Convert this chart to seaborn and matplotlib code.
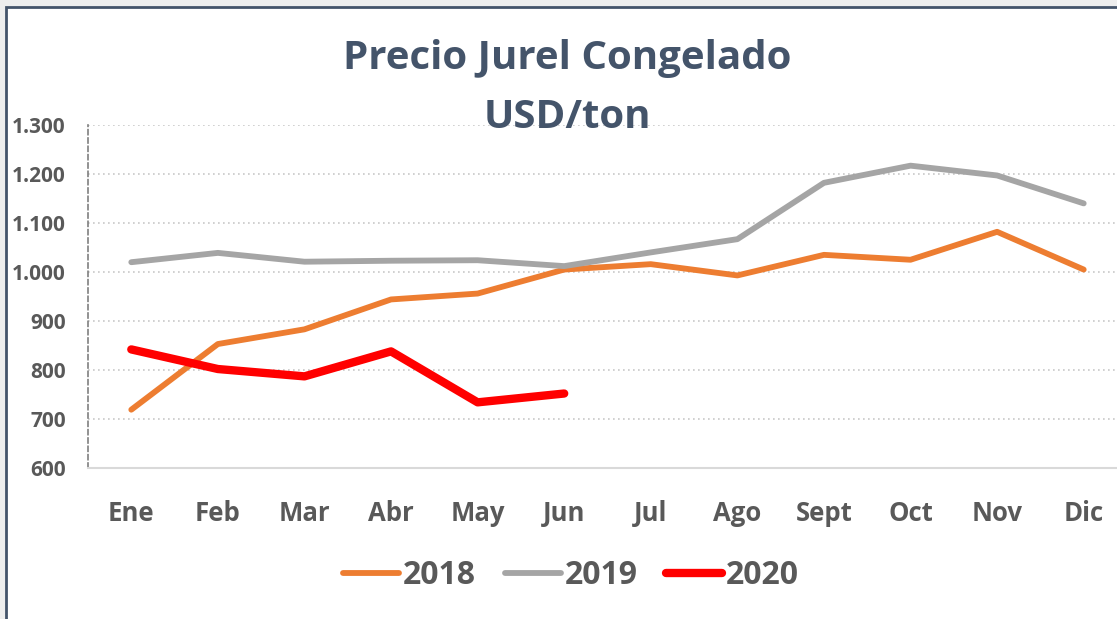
import pandas as pd
import matplotlib.pyplot as plt
import seaborn as sns
from matplotlib.patches import Rectangle
from matplotlib.ticker import FuncFormatter

meses = ["Ene", "Feb", "Mar", "Abr", "May", "Jun",
         "Jul", "Ago", "Sept", "Oct", "Nov", "Dic"]
precio_2018 = [719, 853, 883, 944, 956, 1005, 1016, 993, 1035, 1025, 1082, 1005]
precio_2019 = [1020, 1039, 1021, 1023, 1024, 1012, 1040, 1067, 1182, 1217, 1197, 1140]
precio_2020 = [842, 802, 787, 838, 734, 752]

series = [("2018", precio_2018, "#ED7D31", 4.2),
          ("2019", precio_2019, "#A5A5A5", 4.2),
          ("2020", precio_2020, "#FF0000", 6.0)]

sns.set_theme(style="white")
plt.rcParams["font.family"] = ["Open Sans", "DejaVu Sans"]

fig = plt.figure(figsize=(11.17, 6.19), dpi=100)
fig.patch.set_facecolor("#EEEEEE")

# chart frame (white area with slate border, cut off on the right/bottom)
W, H = 1117, 619
frame = Rectangle((6 / W, -0.05), 1.1, 1 - 7 / H + 0.05, transform=fig.transFigure,
                  facecolor="white", edgecolor="#44546A", linewidth=2, zorder=-10)
fig.patches.append(frame)

ax = fig.add_axes([88 / W, (H - 468) / H, (1127 - 88) / W, (468 - 125) / H])
ax.set_facecolor("none")

for year, vals, color, lw in series:
    df = pd.DataFrame({"Mes": list(range(len(vals))), "Precio": vals})
    sns.lineplot(data=df, x="Mes", y="Precio", ax=ax, color=color,
                 linewidth=lw, label=year, solid_capstyle="round")

ax.set_xlim(-0.5, len(meses) - 0.5)
ax.set_ylim(600, 1300)
ax.set_yticks(range(600, 1301, 100))
ax.yaxis.set_major_formatter(FuncFormatter(lambda v, p: f"{int(v):,}".replace(",", ".")))
ax.set_xticks(range(len(meses)))
ax.set_xticklabels(meses)
ax.set_xlabel("")
ax.set_ylabel("")

ax.grid(axis="y", color="#C8C8C8", linestyle=(0, (1, 2)), linewidth=1.2)
ax.grid(axis="x", visible=False)
for s in ["top", "right"]:
    ax.spines[s].set_visible(False)
ax.spines["left"].set_color("#7F7F7F")
ax.spines["left"].set_linestyle((0, (3, 2)))
ax.spines["left"].set_linewidth(1.2)
ax.spines["bottom"].set_color("#D9D9D9")
ax.spines["bottom"].set_linewidth(1.5)
ax.tick_params(axis="both", length=0, colors="#595959")
ax.tick_params(axis="y", labelsize=15, pad=16)
ax.tick_params(axis="x", labelsize=18.5, pad=23)
for lab in ax.get_xticklabels() + ax.get_yticklabels():
    lab.set_fontweight("bold")

fig.text(567 / W, 1 - 58 / H, "Precio Jurel Congelado", ha="center", va="center",
         fontsize=29, fontweight="bold", color="#44546A")
fig.text(567 / W, 1 - 118 / H, "USD/ton", ha="center", va="center",
         fontsize=29, fontweight="bold", color="#44546A")

ax.legend(loc="center", bbox_to_anchor=(571 / W, 1 - 576 / H), bbox_transform=fig.transFigure,
          ncol=3, frameon=False, handlelength=1.75, handletextpad=0.12,
          columnspacing=0.9, prop={"weight": "bold", "size": 23})
for t in ax.get_legend().get_texts():
    t.set_color("#595959")

fig.savefig("out.png", dpi=100, facecolor=fig.get_facecolor())
